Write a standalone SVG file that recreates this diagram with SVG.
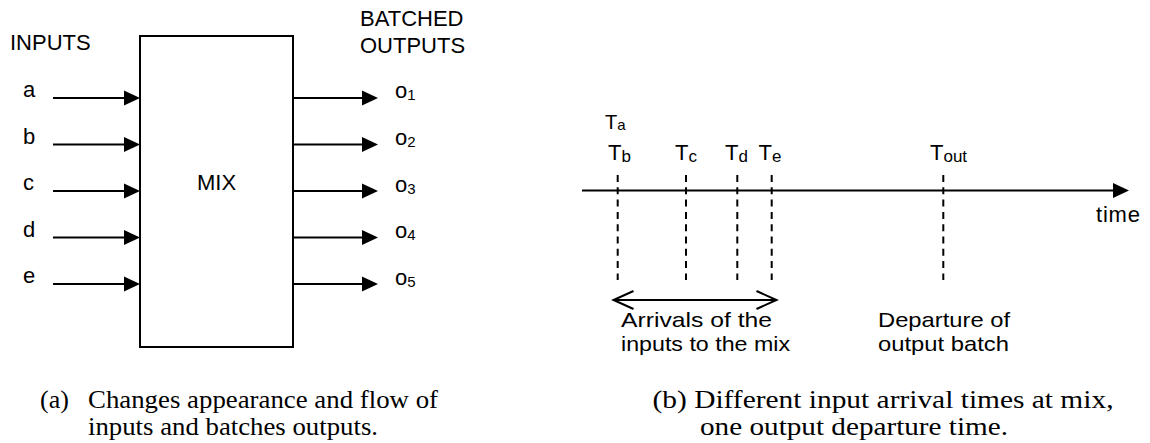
<svg xmlns="http://www.w3.org/2000/svg" width="1150" height="443" viewBox="0 0 1150 443">
<style>
  .sans { font-family: "Liberation Sans", Arial, sans-serif; fill: #000; }
  .lbl { font-size: 22px; }
  .tl { font-size: 21px; }
  .cap { font-family: "Liberation Serif", "Times New Roman", serif; font-size: 26px; fill: #000; }
  .ln { stroke: #000; stroke-width: 2; fill: none; }
  .dash { stroke: #000; stroke-width: 2; stroke-dasharray: 7 5.3; fill: none; }
</style>
<defs>
  <marker id="tri" markerUnits="userSpaceOnUse" markerWidth="18" markerHeight="16" refX="6" refY="7.5" orient="auto" overflow="visible">
    <path d="M0,0 L16,7.5 L0,15 Z" fill="#000"/>
  </marker>
  <marker id="open" markerUnits="userSpaceOnUse" markerWidth="24" markerHeight="24" refX="0" refY="0" orient="auto-start-reverse" overflow="visible">
    <path d="M-20,-9 L0,0 L-20,9" fill="none" stroke="#000" stroke-width="2"/>
  </marker>
</defs>
<rect width="1150" height="443" fill="#fff"/>

<g id="mix">
  <rect x="140" y="36" width="153" height="311" fill="#fff" stroke="#000" stroke-width="2"/>
  <text class="sans lbl" x="216.5" y="190" text-anchor="middle">MIX</text>
</g>
<g id="inputs-title"><text class="sans lbl" x="10" y="50">INPUTS</text></g>
<g id="outputs-title">
  <text class="sans lbl" x="360" y="26">BATCHED</text>
  <text class="sans lbl" x="360" y="53">OUTPUTS</text>
</g>
<g id="in-a"><text class="sans lbl" x="23" y="97">a</text></g>
<g id="in-b"><text class="sans lbl" x="23" y="144">b</text></g>
<g id="in-c"><text class="sans lbl" x="23" y="190">c</text></g>
<g id="in-d"><text class="sans lbl" x="23" y="237">d</text></g>
<g id="in-e"><text class="sans lbl" x="23" y="283">e</text></g>
<g id="out-1"><text class="sans lbl" x="395" y="98">o<tspan font-size="15" dy="2">1</tspan></text></g>
<g id="out-2"><text class="sans lbl" x="395" y="145">o<tspan font-size="15" dy="2">2</tspan></text></g>
<g id="out-3"><text class="sans lbl" x="395" y="192">o<tspan font-size="15" dy="2">3</tspan></text></g>
<g id="out-4"><text class="sans lbl" x="395" y="238">o<tspan font-size="15" dy="2">4</tspan></text></g>
<g id="out-5"><text class="sans lbl" x="395" y="285">o<tspan font-size="15" dy="2">5</tspan></text></g>

<g id="connectors">
  <line class="ln" x1="53" y1="98" x2="130" y2="98" marker-end="url(#tri)"/>
  <line class="ln" x1="53" y1="144.5" x2="130" y2="144.5" marker-end="url(#tri)"/>
  <line class="ln" x1="53" y1="191" x2="130" y2="191" marker-end="url(#tri)"/>
  <line class="ln" x1="53" y1="237.5" x2="130" y2="237.5" marker-end="url(#tri)"/>
  <line class="ln" x1="53" y1="284" x2="130" y2="284" marker-end="url(#tri)"/>
  <line class="ln" x1="293" y1="98" x2="368" y2="98" marker-end="url(#tri)"/>
  <line class="ln" x1="293" y1="144.5" x2="368" y2="144.5" marker-end="url(#tri)"/>
  <line class="ln" x1="293" y1="191" x2="368" y2="191" marker-end="url(#tri)"/>
  <line class="ln" x1="293" y1="237.5" x2="368" y2="237.5" marker-end="url(#tri)"/>
  <line class="ln" x1="293" y1="284" x2="368" y2="284" marker-end="url(#tri)"/>
  <line class="ln" x1="582" y1="190.5" x2="1119" y2="190.5" marker-end="url(#tri)"/>
  <line class="dash" x1="617.7" y1="175" x2="617.7" y2="280"/>
  <line class="dash" x1="686" y1="175" x2="686" y2="280"/>
  <line class="dash" x1="737.3" y1="175" x2="737.3" y2="280"/>
  <line class="dash" x1="771.7" y1="175" x2="771.7" y2="280"/>
  <line class="dash" x1="943.3" y1="175" x2="943.3" y2="280"/>
  <line class="ln" x1="613.5" y1="300" x2="776.5" y2="300" marker-start="url(#open)" marker-end="url(#open)"/>
</g>

<g id="t-a"><text class="sans" font-size="20" x="605" y="128.5">T<tspan font-size="15" dy="1.5">a</tspan></text></g>
<g id="t-b"><text class="sans lbl" x="608" y="160">T<tspan font-size="17" dy="2">b</tspan></text></g>
<g id="t-c"><text class="sans lbl" x="675" y="160">T<tspan font-size="17" dy="2">c</tspan></text></g>
<g id="t-d"><text class="sans lbl" x="725" y="160">T<tspan font-size="17" dy="2">d</tspan></text></g>
<g id="t-e"><text class="sans lbl" x="758.5" y="160">T<tspan font-size="17" dy="2">e</tspan></text></g>
<g id="t-out"><text class="sans lbl" x="930" y="160">T<tspan font-size="17" dy="2">out</tspan></text></g>
<g id="time-label"><text class="sans lbl" x="1096" y="222" textLength="44">time</text></g>

<g id="arrivals">
  <text class="sans tl" x="621" y="326.5" textLength="151" lengthAdjust="spacingAndGlyphs">Arrivals of the</text>
  <text class="sans tl" x="621" y="350.5" textLength="169" lengthAdjust="spacingAndGlyphs">inputs to the mix</text>
</g>
<g id="departure">
  <text class="sans tl" x="878" y="326.5" textLength="132" lengthAdjust="spacingAndGlyphs">Departure of</text>
  <text class="sans tl" x="878" y="350.5" textLength="131" lengthAdjust="spacingAndGlyphs">output batch</text>
</g>

<g id="caption-a">
  <text class="cap" x="40" y="408">(a)</text>
  <text class="cap" x="88" y="408" textLength="350" lengthAdjust="spacingAndGlyphs">Changes appearance and flow of</text>
  <text class="cap" x="88" y="435" textLength="290" lengthAdjust="spacingAndGlyphs">inputs and batches outputs.</text>
</g>
<g id="caption-b">
  <text class="cap" x="652.5" y="408" textLength="461" lengthAdjust="spacingAndGlyphs">(b) Different input arrival times at mix,</text>
  <text class="cap" x="700" y="435" textLength="308" lengthAdjust="spacingAndGlyphs">one output departure time.</text>
</g>
</svg>
